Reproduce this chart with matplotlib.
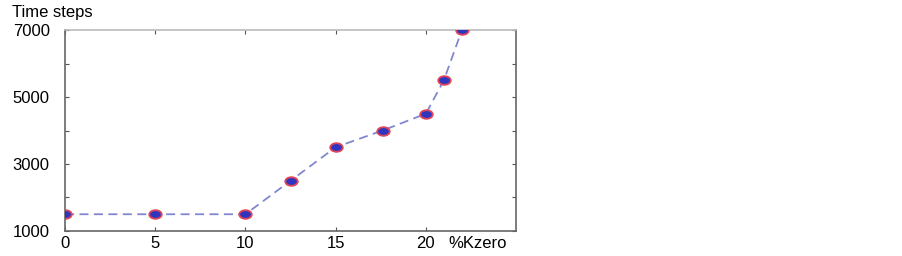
import matplotlib
matplotlib.use("Agg")
import matplotlib.pyplot as plt
from matplotlib.path import Path
from matplotlib.transforms import Affine2D
import numpy as np

kzero = [0, 5, 10, 12.5, 15, 17.6, 20, 21, 22]
steps = [1500, 1500, 1500, 2500, 3500, 4000, 4500, 5500, 7000]
xticks = [0, 5, 10, 15, 20]
yticks_major = [1000, 3000, 5000, 7000]
yticks_all = [1000, 2000, 3000, 4000, 5000, 6000, 7000]

plt.rcParams['font.family'] = ['Liberation Sans', 'DejaVu Sans']

fig = plt.figure(figsize=(9.02, 2.56), dpi=100)
ax = fig.add_axes([0.0721, 0.0977, 0.5, 0.785])

ell = Path.unit_circle().transformed(Affine2D().scale(1.45, 1.0))

ax.plot(kzero, steps, linestyle=(0, (5, 3)), color='#8087d0', linewidth=1.3,
        marker=ell, markersize=9, markerfacecolor='#3035c0',
        markeredgecolor='#e04458', markeredgewidth=1.3, zorder=3)

ax.set_xlim(0, 25)
ax.set_ylim(1000, 7000)
ax.set_xticks(xticks)
ax.set_xticklabels([str(v) for v in xticks])
ax.set_yticks(yticks_all)
ax.set_yticklabels([str(v) if v in yticks_major else '' for v in yticks_all])
ax.tick_params(direction='in', length=3, width=0.8, colors='#555555',
               labelcolor='black', labelsize=12, top=True, right=True)
ax.tick_params(axis='y', pad=11)
ax.tick_params(axis='x', pad=3.5)

for s in ['left', 'bottom', 'right']:
    ax.spines[s].set_color('#666666')
    ax.spines[s].set_linewidth(1.2)
ax.spines['top'].set_color('#bbbbbb')
ax.spines['top'].set_linewidth(1.2)

fig.text(12/902, 1 - 13/256, 'Time steps', fontsize=12, va='center', ha='left')
fig.text(448/902, 1 - 244/256, '%Kzero', fontsize=12, va='center', ha='left')

fig.savefig('out.png', dpi=100)
